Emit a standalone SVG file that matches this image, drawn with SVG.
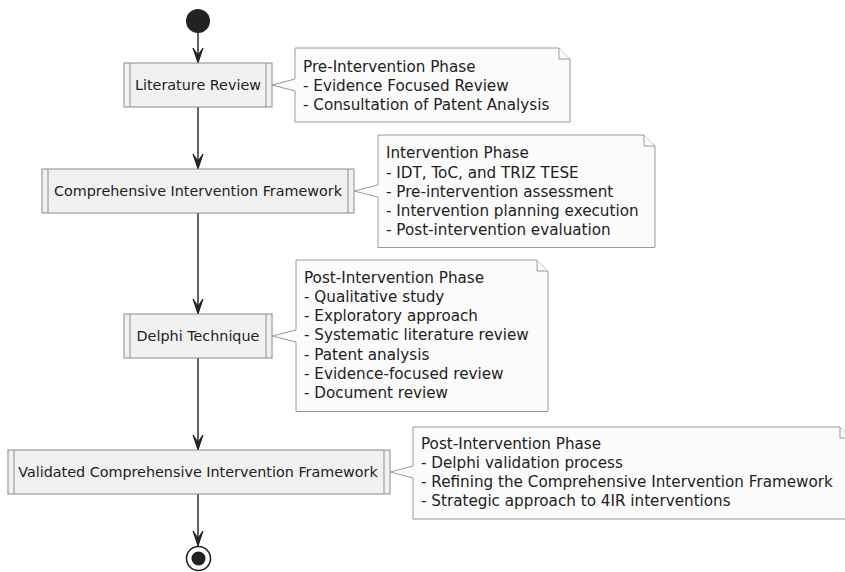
<svg xmlns="http://www.w3.org/2000/svg" width="845" height="572" viewBox="0 0 845 572">
<defs>
<style>
.act{fill:#F1F1F1;stroke:#8C8C8C;stroke-width:1}
.bar{stroke:#8C8C8C;stroke-width:1}
.atxt{font-family:"DejaVu Sans",sans-serif;font-size:14.35px;fill:#222;text-anchor:middle}
.note{fill:#FBFBFB;stroke:#9A9A9A;stroke-width:1}
.ntxt{font-family:"DejaVu Sans",sans-serif;font-size:15.2px;fill:#222}
.edge{stroke:#222;stroke-width:1.4;fill:none}
.head{fill:#222;stroke:#222;stroke-width:1}
</style>
</defs>
<rect width="845" height="572" fill="#FFFFFF"/>

<g id="connectors">
<line class="edge" x1="198" y1="33" x2="198" y2="62"/>
<path d="M193,48 L198,63 L203,48 L198,55 Z" class="head"/>
<line class="edge" x1="198" y1="107" x2="198" y2="168"/>
<path d="M193,154 L198,169 L203,154 L198,161 Z" class="head"/>
<line class="edge" x1="198" y1="213" x2="198" y2="313"/>
<path d="M193,299 L198,314 L203,299 L198,306 Z" class="head"/>
<line class="edge" x1="198" y1="358" x2="198" y2="449"/>
<path d="M193,435 L198,450 L203,435 L198,442 Z" class="head"/>
<line class="edge" x1="198" y1="494" x2="198" y2="545"/>
<path d="M193,531 L198,546 L203,531 L198,538 Z" class="head"/>
</g>

<g id="start">
<circle cx="198" cy="21" r="12" fill="#222"/>
</g>

<g id="literature-review">
<rect class="act" x="124" y="63" width="148" height="44"/>
<line class="bar" x1="130" y1="63" x2="130" y2="107"/>
<line class="bar" x1="266" y1="63" x2="266" y2="107"/>
<text class="atxt" x="198" y="90">Literature Review</text>
</g>

<g id="note1">
<path class="note" d="M295,48 L559,48 L570,59 L570,122 L295,122 L295,91 L272,85 L295,79 Z"/>
<path class="note" d="M559,48 L559,59 L570,59"/>
<text class="ntxt" x="303" y="71.5">Pre-Intervention Phase</text>
<text class="ntxt" x="303" y="90.75">- Evidence Focused Review</text>
<text class="ntxt" x="303" y="110">- Consultation of Patent Analysis</text>
</g>

<g id="comprehensive-framework">
<rect class="act" x="42" y="169" width="312" height="44"/>
<line class="bar" x1="48" y1="169" x2="48" y2="213"/>
<line class="bar" x1="348" y1="169" x2="348" y2="213"/>
<text class="atxt" x="198" y="196">Comprehensive Intervention Framework</text>
</g>

<g id="note2">
<path class="note" d="M378,135 L644,135 L655,146 L655,247.5 L378,247.5 L378,197 L354,191 L378,185 Z"/>
<path class="note" d="M644,135 L644,146 L655,146"/>
<text class="ntxt" x="386" y="158.3">Intervention Phase</text>
<text class="ntxt" x="386" y="177.55">- IDT, ToC, and TRIZ TESE</text>
<text class="ntxt" x="386" y="196.8">- Pre-intervention assessment</text>
<text class="ntxt" x="386" y="216.05">- Intervention planning execution</text>
<text class="ntxt" x="386" y="235.3">- Post-intervention evaluation</text>
</g>

<g id="delphi-technique">
<rect class="act" x="124" y="314" width="148" height="44"/>
<line class="bar" x1="130" y1="314" x2="130" y2="358"/>
<line class="bar" x1="266" y1="314" x2="266" y2="358"/>
<text class="atxt" x="198" y="341">Delphi Technique</text>
</g>

<g id="note3">
<path class="note" d="M296,260 L537,260 L548,271 L548,411.5 L296,411.5 L296,342 L272,336 L296,330 Z"/>
<path class="note" d="M537,260 L537,271 L548,271"/>
<text class="ntxt" x="304" y="282.5">Post-Intervention Phase</text>
<text class="ntxt" x="304" y="301.75">- Qualitative study</text>
<text class="ntxt" x="304" y="321">- Exploratory approach</text>
<text class="ntxt" x="304" y="340.25">- Systematic literature review</text>
<text class="ntxt" x="304" y="359.5">- Patent analysis</text>
<text class="ntxt" x="304" y="378.75">- Evidence-focused review</text>
<text class="ntxt" x="304" y="398">- Document review</text>
</g>

<g id="validated-framework">
<rect class="act" x="8" y="450" width="382" height="44"/>
<line class="bar" x1="14" y1="450" x2="14" y2="494"/>
<line class="bar" x1="384" y1="450" x2="384" y2="494"/>
<text class="atxt" x="198" y="477">Validated Comprehensive Intervention Framework</text>
</g>

<g id="note4">
<path class="note" d="M413,427 L840,427 L851,438 L851,519 L413,519 L413,478 L390,472 L413,466 Z"/>
<path class="note" d="M840,427 L840,438 L851,438"/>
<text class="ntxt" x="421" y="448.5">Post-Intervention Phase</text>
<text class="ntxt" x="421" y="467.75">- Delphi validation process</text>
<text class="ntxt" x="421" y="487">- Refining the Comprehensive Intervention Framework</text>
<text class="ntxt" x="421" y="506.25">- Strategic approach to 4IR interventions</text>
</g>

<g id="end">
<circle cx="198.5" cy="558.5" r="12" fill="#FFFFFF" stroke="#222" stroke-width="1.6"/>
<circle cx="198.5" cy="558.5" r="7" fill="#222"/>
</g>
</svg>
